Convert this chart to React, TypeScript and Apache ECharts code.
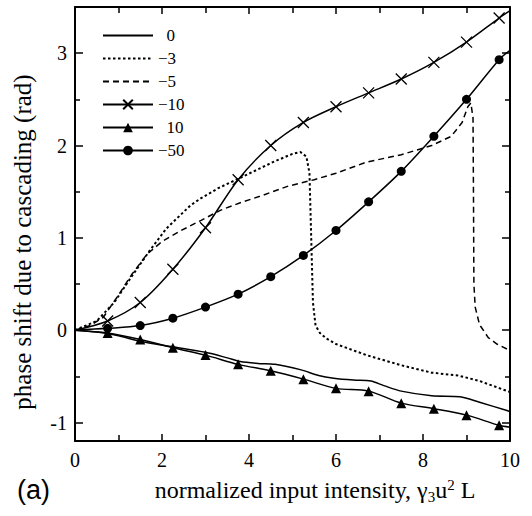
import React, { useEffect, useRef } from "react";
import * as echarts from "echarts";

const SERIES_NAMES = ["0", "\u22123", "\u22125", "\u221210", "10", "\u221250"];

const X_TICKS = [0, 2, 4, 6, 8, 10];
const Y_MAJOR = [-1, 0, 1, 2, 3];
const Y_MINOR = [-0.5, 0.5, 1.5, 2.5];

const curve0: number[][] = [
  [0, 0], [0.5, -0.02], [1, -0.06], [1.5, -0.12], [2.25, -0.18], [3, -0.24], [3.5, -0.3],
  [3.8, -0.34], [4.2, -0.36], [4.6, -0.37], [5.2, -0.43], [5.6, -0.49], [5.95, -0.52],
  [6.4, -0.54], [6.8, -0.55], [7.1, -0.6], [7.5, -0.66], [8.2, -0.71], [8.85, -0.72],
  [9.3, -0.78], [9.93, -0.87], [10, -0.88],
];

const curveM3: number[][] = [
  [0, 0], [0.5, 0.1], [0.9, 0.3], [1.3, 0.58], [1.7, 0.85], [2.1, 1.1], [2.65, 1.35],
  [2.9, 1.43], [3.3, 1.54], [3.8, 1.65], [4.55, 1.82], [5.0, 1.91], [5.18, 1.93],
  [5.32, 1.88], [5.39, 1.7], [5.43, 1.0], [5.47, 0.3], [5.53, 0.05], [5.63, -0.03],
  [5.78, -0.09], [6.0, -0.15], [6.7, -0.27], [7.5, -0.38], [8.2, -0.46], [8.8, -0.49],
  [9.3, -0.55], [10, -0.67],
];

const curveM5: number[][] = [
  [0, 0], [0.35, 0.05], [0.65, 0.14], [1.0, 0.38], [1.3, 0.6], [1.65, 0.82], [2.0, 0.96],
  [2.4, 1.07], [2.9, 1.19], [3.35, 1.3], [3.8, 1.38], [4.25, 1.45], [4.9, 1.56],
  [5.5, 1.63], [6.0, 1.7], [6.7, 1.82], [7.5, 1.9], [8.2, 2.0], [8.65, 2.1], [8.9, 2.25],
  [9.03, 2.42], [9.1, 2.46], [9.15, 2.3], [9.16, 1.5], [9.17, 0.5], [9.2, 0.25],
  [9.3, 0.06], [9.5, -0.08], [9.7, -0.15], [10, -0.22],
];

const curveM10: number[][] = [
  [0, 0], [0.75, 0.1], [1.5, 0.3], [2.25, 0.66], [3, 1.11], [3.75, 1.63], [4.5, 2.0],
  [5.25, 2.25], [6, 2.42], [6.75, 2.57], [7.5, 2.72], [8.25, 2.9], [9, 3.12], [9.75, 3.38],
  [10, 3.46],
];

const curveP10: number[][] = [
  [0, 0], [0.75, -0.03], [1.5, -0.1], [2.25, -0.19], [3, -0.27], [3.75, -0.37],
  [4.5, -0.44], [5.25, -0.53], [6, -0.63], [6.75, -0.66], [7.5, -0.79], [8.25, -0.85],
  [9, -0.92], [9.75, -1.03], [10, -1.05],
];

const curveM50: number[][] = [
  [0, 0], [0.75, 0.02], [1.5, 0.05], [2.25, 0.13], [3, 0.25], [3.75, 0.39], [4.5, 0.58],
  [5.25, 0.81], [6, 1.08], [6.75, 1.39], [7.5, 1.72], [8.25, 2.1], [9, 2.5], [9.75, 2.93],
  [10, 3.03],
];

const FONT = "Liberation Serif, serif";

function markerData(points: number[][]) {
  return points.map((p) =>
    p[0] === 0 || p[0] === 10 ? { value: p, symbol: "none" } : { value: p }
  );
}

export default function App() {
  const ref = useRef<HTMLDivElement>(null);
  useEffect(() => {
    if (!ref.current) return;
    const chart = echarts.init(ref.current, undefined, { renderer: "svg" });
    const axisLine = { show: true, onZero: false, lineStyle: { color: "#000", width: 2 } };
    const noLine = { show: false, onZero: false };
    const tickStyle = { color: "#000", width: 1.5 };
    const grid = { left: 75, right: 22, top: 7, bottom: 75 };
    const lineBase = (name: string, data: any, type: any, extra: any = {}) => ({
      name,
      type: "line",
      data,
      xAxisIndex: 0,
      yAxisIndex: 0,
      showSymbol: true,
      symbol: "none",
      lineStyle: { color: "#000", width: 1.5, type },
      itemStyle: { color: "#000" },
      z: 3,
      ...extra,
    });
    const yBase = { type: "value", min: -1.2, max: 3.5, splitLine: { show: false } };
    chart.setOption({
      animation: false,
      backgroundColor: "#fff",
      textStyle: { fontFamily: FONT, color: "#000" },
      grid,
      legend: {
        orient: "vertical",
        left: 102,
        top: 27,
        padding: 0,
        itemWidth: 50,
        itemHeight: 12,
        itemGap: 6,
        data: SERIES_NAMES.map((n, i) =>
          i < 3 ? { name: n, itemStyle: { opacity: 0 } } : { name: n }
        ),
        formatter: (n: string) => (n === "0" || n === "10" ? "\u2002" + n : n),
        textStyle: { fontFamily: FONT, fontSize: 17, color: "#000", lineHeight: 16 },
      },
      xAxis: [
        {
          type: "value",
          min: 0,
          max: 10,
          interval: 2,
          position: "bottom",
          axisLine,
          axisTick: { show: true, inside: true, length: 7, lineStyle: tickStyle },
          minorTick: { show: true, splitNumber: 2, length: 6, lineStyle: tickStyle },
          axisLabel: {
            color: "#000",
            fontFamily: FONT,
            fontSize: 20,
            margin: 9,
            customValues: X_TICKS,
          },
          splitLine: { show: false },
        },
        {
          type: "value",
          min: 0,
          max: 10,
          interval: 2,
          position: "top",
          axisLine,
          axisTick: { show: true, inside: true, length: 7, lineStyle: tickStyle },
          minorTick: { show: true, splitNumber: 2, length: 6, lineStyle: tickStyle },
          axisLabel: { show: false },
          splitLine: { show: false },
        },
      ],
      yAxis: [
        {
          ...yBase,
          position: "left",
          axisLine,
          axisTick: { show: true, inside: true, length: 8, customValues: Y_MAJOR, lineStyle: tickStyle },
          axisLabel: { color: "#000", fontFamily: FONT, fontSize: 20, margin: 8, customValues: Y_MAJOR },
        },
        {
          ...yBase,
          position: "left",
          axisLine: noLine,
          axisTick: { show: true, inside: true, length: 5, customValues: Y_MINOR, lineStyle: tickStyle },
          axisLabel: { show: false },
        },
        {
          ...yBase,
          position: "right",
          axisLine,
          axisTick: { show: true, inside: true, length: 8, customValues: Y_MAJOR, lineStyle: tickStyle },
          axisLabel: { show: false },
        },
        {
          ...yBase,
          position: "right",
          axisLine: noLine,
          axisTick: { show: true, inside: true, length: 5, customValues: Y_MINOR, lineStyle: tickStyle },
          axisLabel: { show: false },
        },
      ],
      series: [
        lineBase(SERIES_NAMES[0], curve0, "solid", { smooth: 0.3 }),
        lineBase(SERIES_NAMES[1], curveM3, [2.5, 2.5], {
          lineStyle: { color: "#000", width: 2, type: [2.5, 2.5] },
        }),
        lineBase(SERIES_NAMES[2], curveM5, [6, 4]),
        lineBase(SERIES_NAMES[3], markerData(curveM10), "solid", {
          smooth: 0.3,
          symbol: "path://M0,0L10,10M10,0L0,10",
          symbolSize: 11,
          itemStyle: { color: "#000", borderColor: "#000", borderWidth: 1.3 },
        }),
        lineBase(SERIES_NAMES[4], markerData(curveP10), "solid", {
          smooth: 0.3,
          symbol: "triangle",
          symbolSize: 10,
        }),
        lineBase(SERIES_NAMES[5], markerData(curveM50), "solid", {
          smooth: 0.3,
          symbol: "circle",
          symbolSize: 9,
        }),
      ],
      graphic: [
        {
          type: "text",
          x: 22,
          y: 242,
          rotation: Math.PI / 2,
          style: {
            text: "phase shift due to cascading (rad)",
            fontFamily: FONT,
            fontSize: 25,
            fill: "#000",
            align: "center",
            verticalAlign: "middle",
          },
        },
        {
          type: "text",
          x: 315,
          y: 490,
          style: {
            text: "normalized input intensity, \u03b3{sub|3}u{sup|2} L",
            fontFamily: FONT,
            fontSize: 24,
            fill: "#000",
            align: "center",
            verticalAlign: "middle",
            rich: {
              sub: { fontFamily: FONT, fontSize: 15, padding: [14, 0, 0, 0] },
              sup: { fontFamily: FONT, fontSize: 15, padding: [0, 0, 10, 0] },
            },
          },
        },
        {
          type: "text",
          x: 17,
          y: 490,
          style: {
            text: "(a)",
            fontFamily: "Liberation Sans",
            fontSize: 27,
            fill: "#000",
            align: "left",
            verticalAlign: "middle",
          },
        },
      ],
    });
    return () => chart.dispose();
  }, []);
  return (
    <div
      ref={ref}
      style={{ position: "absolute", left: 0, top: 0, width: 532, height: 516 }}
    />
  );
}
